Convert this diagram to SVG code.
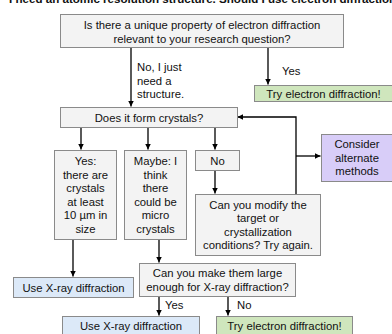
<svg xmlns="http://www.w3.org/2000/svg" width="392" height="334" viewBox="0 0 392 334">
<defs>
<marker id="ah" viewBox="0 0 10 10" refX="10" refY="5" markerWidth="4.5" markerHeight="4.5" orient="auto" markerUnits="strokeWidth">
<path d="M0,0 L10,5 L0,10 z" fill="#000"/>
</marker>
<style>
text{font-family:"Liberation Sans",Arial,sans-serif;font-size:11.3px;fill:#111;}
.c{text-anchor:middle;}
.box{stroke:#8a8a8a;stroke-width:1;}
.g{fill:#f3f3f3;}
.b{fill:#dce9f8;}
.gr{fill:#cfe6bd;}
.p{fill:#d8cdf8;}
.ln{fill:none;stroke:#000;stroke-width:1.3;}
.ar{marker-end:url(#ah);}
.title{font-weight:bold;font-size:11.6px;}
</style>
</defs>
<rect width="392" height="334" fill="#fff"/>
<text class="title" x="9" y="3">I need an atomic resolution structure. Should I use electron diffraction?</text>

<g id="connectors">
<path class="ln ar" d="M131,47 V106.5"/>
<path class="ln ar" d="M268,47 V84.5"/>
<path class="ln ar" d="M81,127 V149.5"/>
<path class="ln ar" d="M148,127 V149.5"/>
<path class="ln ar" d="M215,127 V149.5"/>
<path class="ln ar" d="M215,170 V193.5"/>
<path class="ln ar" d="M296,194 V117 H237.5"/>
<path class="ln ar" d="M296,156 H320.5"/>
<path class="ln ar" d="M73,239 V276.5"/>
<path class="ln ar" d="M159,239 V262.5"/>
<path class="ln ar" d="M159,296 V315.5"/>
<path class="ln ar" d="M228,296 V315.5"/>
<text x="137" y="71">No, I just</text>
<text x="137" y="85">need a</text>
<text x="137" y="98">structure.</text>
<text x="282" y="75">Yes</text>
<text x="165" y="309">Yes</text>
<text x="237" y="309">No</text>
</g>

<g id="q1">
<rect class="box g" x="60.5" y="14.5" width="283" height="33"/>
<text class="c" x="202" y="29">Is there a unique property of electron diffraction</text>
<text class="c" x="202" y="43">relevant to your research question?</text>
</g>
<g id="try1">
<rect class="box gr" x="254.5" y="85.5" width="138" height="16"/>
<text class="c" x="323.5" y="97.5">Try electron diffraction!</text>
</g>
<g id="q2">
<rect class="box g" x="60.5" y="107.5" width="177" height="20"/>
<text class="c" x="149" y="121.5">Does it form crystals?</text>
</g>
<g id="yes">
<rect class="box g" x="54.5" y="150.5" width="62" height="89"/>
<text class="c" x="85.5" y="165">Yes:</text>
<text class="c" x="85.5" y="178.5">there are</text>
<text class="c" x="85.5" y="192">crystals</text>
<text class="c" x="85.5" y="205.5">at least</text>
<text class="c" x="85.5" y="219">10 µm in</text>
<text class="c" x="85.5" y="232.5">size</text>
</g>
<g id="maybe">
<rect class="box g" x="124.5" y="150.5" width="62" height="89"/>
<text class="c" x="155.5" y="165">Maybe: I</text>
<text class="c" x="155.5" y="178.5">think</text>
<text class="c" x="155.5" y="192">there</text>
<text class="c" x="155.5" y="205.5">could be</text>
<text class="c" x="155.5" y="219">micro</text>
<text class="c" x="155.5" y="232.5">crystals</text>
</g>
<g id="no">
<rect class="box g" x="195.5" y="150.5" width="44" height="20"/>
<text class="c" x="217.5" y="164.5">No</text>
</g>
<g id="modify">
<rect class="box g" x="195.5" y="194.5" width="125" height="61"/>
<text class="c" x="258" y="208.5">Can you modify the</text>
<text class="c" x="258" y="221.5">target or</text>
<text class="c" x="258" y="235.5">crystallization</text>
<text class="c" x="258" y="249">conditions? Try again.</text>
</g>
<g id="alt">
<rect class="box p" x="321.5" y="134.5" width="72" height="47"/>
<text class="c" x="357" y="148">Consider</text>
<text class="c" x="357" y="161.5">alternate</text>
<text class="c" x="357" y="175">methods</text>
</g>
<g id="xray1">
<rect class="box b" x="13.5" y="277.5" width="120" height="20"/>
<text class="c" x="73.5" y="291.5">Use X-ray diffraction</text>
</g>
<g id="q3">
<rect class="box g" x="139.5" y="263.5" width="156" height="33"/>
<text class="c" x="217.5" y="277">Can you make them large</text>
<text class="c" x="217.5" y="291">enough for X-ray diffraction?</text>
</g>
<g id="xray2">
<rect class="box b" x="62.5" y="316.5" width="137" height="20"/>
<text class="c" x="131" y="330">Use X-ray diffraction</text>
</g>
<g id="try2">
<rect class="box gr" x="216.5" y="316.5" width="136" height="20"/>
<text class="c" x="284.5" y="330">Try electron diffraction!</text>
</g>
</svg>
